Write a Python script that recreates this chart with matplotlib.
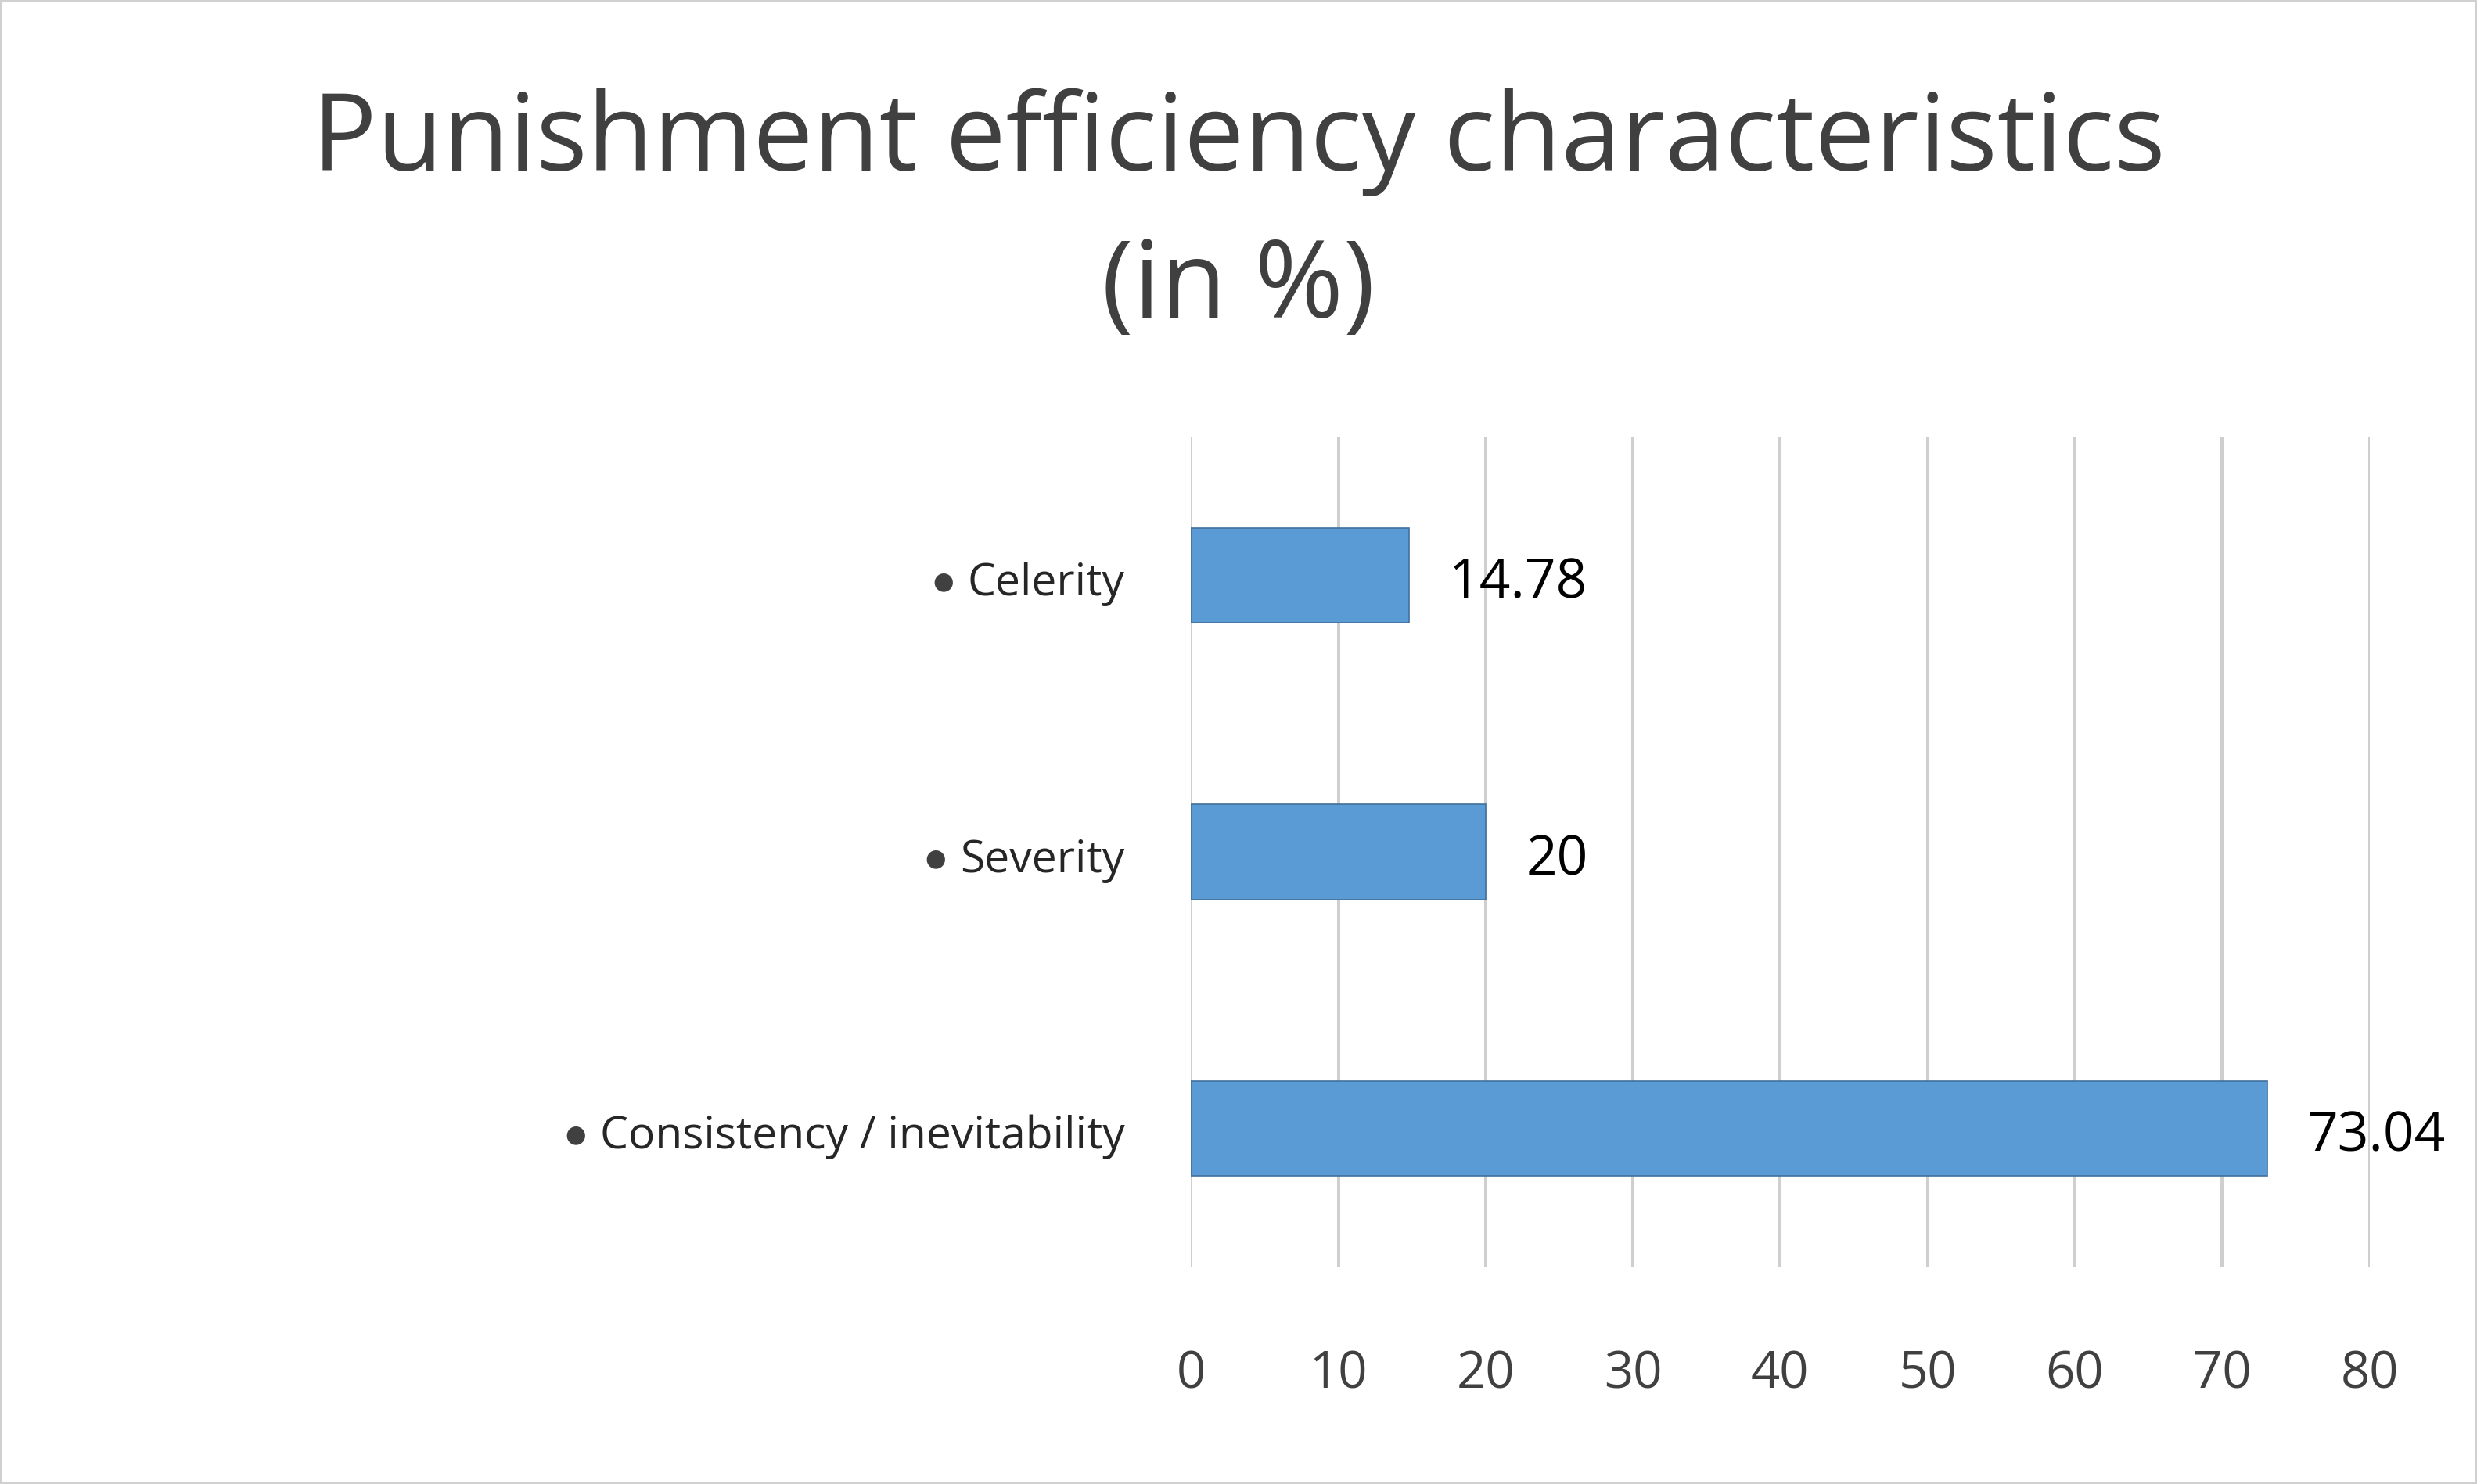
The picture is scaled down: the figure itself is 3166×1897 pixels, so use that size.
import matplotlib
matplotlib.use("Agg")
import matplotlib.pyplot as plt
from matplotlib.patches import Rectangle
from matplotlib.transforms import ScaledTranslation

# chart data, bottom to top as drawn
categories = ["Consistency / inevitability", "Severity", "Celerity"]
values = [73.04, 20, 14.78]
value_labels = ["73.04", "20", "14.78"]
xticks = [0, 10, 20, 30, 40, 50, 60, 70, 80]

plt.rcParams["font.family"] = ["Open Sans", "DejaVu Sans"]

figure = plt.figure(figsize=(31.66, 18.97), dpi=100)
axes = figure.add_axes([0.4808, 0.1465, 0.4758, 0.5588])

positions = list(range(len(categories)))
bars = axes.barh(positions, values, height=0.343, color="#5B9BD5",
                 edgecolor="#41719C", linewidth=1.2, zorder=3)

for pos, val, text in zip(positions, values, value_labels):
    axes.annotate(text, (val, pos), xytext=(37, -8), textcoords="offset points",
                  ha="left", va="center", fontsize=50, color="#000000")

axes.set_xlim(0, 80)
axes.set_ylim(-0.5, len(categories) - 0.5)
axes.set_xticks(xticks)
axes.set_xticklabels([str(t) for t in xticks])
axes.set_yticks(positions)
axes.set_yticklabels(categories)

axes.grid(axis="x", color="#CFCFCF", linewidth=2.9, zorder=0)
axes.grid(axis="y", visible=False)
for spine in axes.spines.values():
    spine.set_visible(False)
axes.tick_params(axis="x", length=0, pad=76, labelsize=47, labelcolor="#404040")
axes.tick_params(axis="y", length=0, pad=61, labelsize=41, labelcolor="#262626")

# nudge category labels down a little and put a bullet in front of each
shift = ScaledTranslation(0, -3 / 72, figure.dpi_scale_trans)
for label in axes.get_yticklabels():
    label.set_transform(label.get_transform() + shift)
    axes.annotate("\u25cf", xy=(0, 0.5), xycoords=label, xytext=(-13, 2),
                  textcoords="offset points", ha="right", va="center",
                  fontsize=22, color="#404040", family="DejaVu Sans")

figure.text(0.5, 0.885, "Punishment efficiency characteristics", ha="center",
            va="baseline", fontsize=99, color="#404040")
figure.text(0.5, 0.786, "(in %)", ha="center", va="baseline", fontsize=99,
            color="#404040")

figure.patches.append(Rectangle((0, 0), 1, 1, transform=figure.transFigure,
                                fill=False, edgecolor="#D0D0D0", linewidth=4))

figure.savefig("out.png", dpi=100)
